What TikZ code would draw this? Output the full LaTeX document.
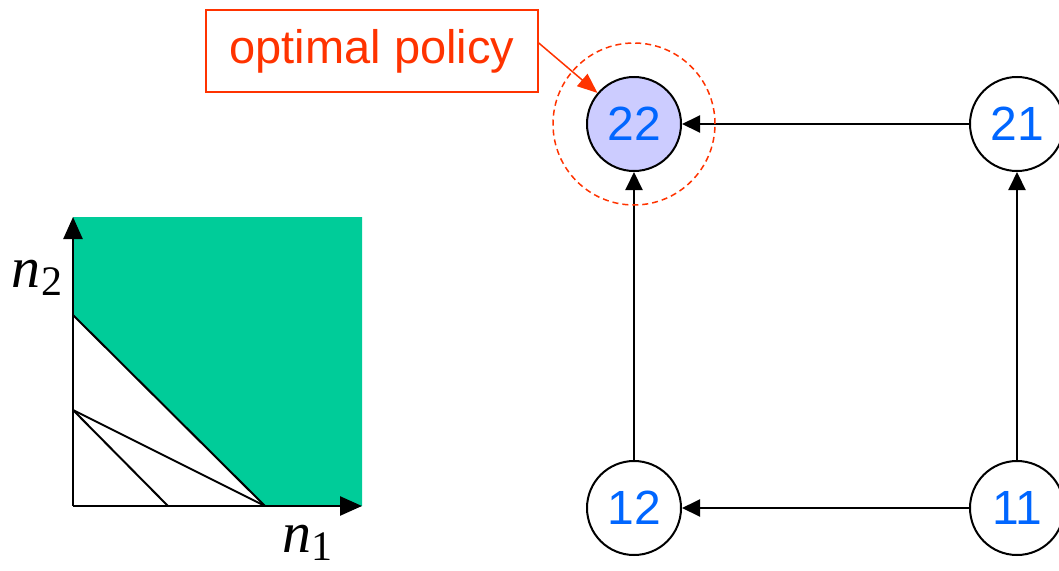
\documentclass[tikz,border=0pt]{standalone}
\usepackage{fontspec}
\setmainfont{Liberation Sans}
\newfontfamily\serifit{Liberation Serif}
\usetikzlibrary{arrows.meta}
\definecolor{plotgreen}{HTML}{00CC99}
\definecolor{lav}{HTML}{CCCCFF}
\definecolor{numblue}{HTML}{0066FF}
\definecolor{callred}{HTML}{FF3300}
\newcommand{\axlab}[1]{{\serifit\fontsize{58}{64}\selectfont\itshape n}{\serifit\fontsize{42}{48}\selectfont\raisebox{-8pt}{#1}}}
\begin{document}
\begin{tikzpicture}[x=1pt,y=-1pt,
  state/.style={circle,draw=black,line width=2pt,minimum size=94pt,inner sep=0pt,
    text=numblue,font=\fontsize{48}{56}\selectfont},
  edge/.style={line width=2pt,-{Triangle[length=18pt,width=17pt]}},
  axis/.style={line width=2.5pt,-{Triangle[length=22pt,width=19pt]}},
  thin line/.style={line width=2pt}]
\useasboundingbox (0,0) rectangle (1059,570);
% left plot
\coordinate (O) at (73,506);
\coordinate (Ytip) at (73,217);
\coordinate (Xtip) at (362,506);
\coordinate (A) at (73,315);
\coordinate (B) at (265,506);
\coordinate (C) at (73,410);
\coordinate (D) at (168,506);
\fill[plotgreen] (73,217) -- (362,217) -- (362,506) -- (B) -- (A) -- cycle;
\draw[thin line] (A) -- (B);
\draw[thin line] (C) -- (B);
\draw[thin line] (C) -- (D);
\draw[axis] (O) -- (Ytip);
\draw[axis] (O) -- (Xtip);
\node[inner sep=0pt] (n2lab) at (37,278) {\axlab{2}};
\node[inner sep=0pt] (n1lab) at (307,543) {\axlab{1}};
% graph
\node[state,fill=lav] (n22) at (634,124) {22};
\node[state,fill=white] (n21) at (1017,124) {21};
\node[state,fill=white] (n12) at (634,508) {12};
\node[state,fill=white] (n11) at (1017,508) {11};
\draw[edge] (n21) -- (n22);
\draw[edge] (n11) -- (n12);
\draw[edge] (n12) -- (n22);
\draw[edge] (n11) -- (n21);
\node[circle,draw=callred,dashed,dash pattern=on 6pt off 4pt,line width=1.5pt,
  minimum size=162pt] (halo) at (634,124) {};
% callout
\node[draw=callred,line width=1.5pt,text=callred,minimum width=332pt,minimum height=82pt,
  inner sep=0pt,font=\fontsize{47}{56}\selectfont] (call) at (372,51) {optimal policy};
\coordinate (cs) at ([yshift=8pt]call.east);
\draw[callred,line width=1.5pt,-{Triangle[length=20pt,width=16pt]}] (cs) -- (n22);
\end{tikzpicture}
\end{document}
